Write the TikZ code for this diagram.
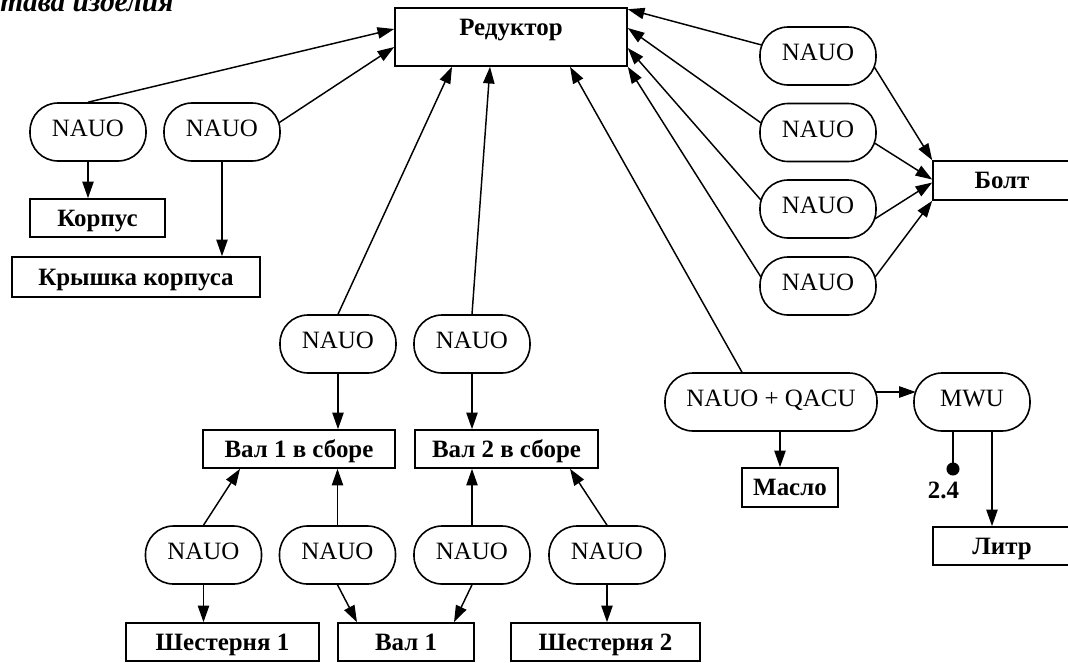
\documentclass[tikz,border=0pt]{standalone}
\usepackage{fontspec}
\setmainfont{Liberation Serif}
\usetikzlibrary{arrows.meta,calc}
\begin{document}
\begin{tikzpicture}[x=0.75pt,y=-0.75pt,
  every node/.style={inner sep=0pt},
  proc/.style={draw, line width=1.2pt, rounded corners=21pt, minimum width=87pt, minimum height=43.5pt,
    font=\fontsize{18.7}{22}\selectfont, text height=12.5pt, text depth=5.3pt},
  part/.style={draw, line width=1.2pt, minimum height=28.5pt,
    font=\bfseries\fontsize{18.7}{22}\selectfont, text height=12.5pt, text depth=0.5pt},
  arr/.style={line width=1.1pt, -{Triangle[length=12.5pt,width=8.5pt]}},
  lbl/.style={font=\bfseries\fontsize{18.7}{22}\selectfont, text height=12.5pt, text depth=0pt}
]
\useasboundingbox (0,0) rectangle (1068,662);
\clip (0,0) rectangle (1068,662);

\node[anchor=base west, font=\bfseries\itshape\fontsize{22}{26}\selectfont] (title) at (0,11.5) {тава изделия};

\node[part, minimum width=174pt, minimum height=43.5pt, text height=12.5pt, text depth=15.5pt] (red) at (511,37) {Редуктор};

\node[proc] (L1) at (88,132) {NAUO};
\node[proc] (L2) at (222,132) {NAUO};
\node[part, minimum width=101.25pt] (korpus) at (97.5,218) {Корпус};
\node[part, minimum width=186pt, minimum height=30pt] (kryshka) at (136,277) {Крышка корпуса};

\node[proc] (r1) at (818,56) {NAUO};
\node[proc] (r2) at (818,132.5) {NAUO};
\node[proc] (r3) at (818,209) {NAUO};
\node[proc] (r4) at (818,286) {NAUO};
\node[part, minimum width=103.5pt, minimum height=29.25pt] (bolt) at (1002,180.5) {Болт};

\node[proc] (v1) at (338,344) {NAUO};
\node[proc] (v2) at (472,344) {NAUO};
\node[proc, minimum width=159pt] (nq) at (771,402) {NAUO + QACU};
\node[proc] (mwu) at (972,402) {MWU};

\node[part, minimum width=144pt] (val1s) at (299,449) {Вал 1 в сборе};
\node[part, minimum width=137.25pt] (val2s) at (506.5,449) {Вал 2 в сборе};
\node[part, minimum width=72pt, minimum height=29.25pt] (maslo) at (790,487.5) {Масло};
\node[part, minimum width=103.5pt] (litr) at (1002,546) {Литр};

\node[proc] (b1) at (203.5,555) {NAUO};
\node[proc] (b2) at (337.5,555) {NAUO};
\node[proc] (b3) at (472,555) {NAUO};
\node[proc] (b4) at (607,555) {NAUO};

\node[part, minimum width=144.75pt] (sh1) at (222.5,642) {Шестерня 1};
\node[part, minimum width=102pt] (val1) at (406,642) {Вал 1};
\node[part, minimum width=141.75pt] (sh2) at (605.5,642) {Шестерня 2};

\coordinate (d24) at (953,469);
\node[lbl] (l24) at (943.5,490) {2.4};
\coordinate (lt) at ($(mwu.south)+(20,0)$);

% edges to Reduktor
\draw[arr] (L1.north) -- ($(red.west)+(0,-8)$);
\draw[arr] ($(L2.center)+(56.6,-9)$) -- ($(red.west)+(0,10)$);
\draw[arr] ($(r1.center)+(-56.3,-11)$) -- ($(red.north east)+(0,2)$);
\draw[arr] ($(r2.center)+(-56.9,-9.5)$) -- ($(red.east)+(0,-9)$);
\draw[arr] ($(r3.center)+(-57.1,-9)$) -- ($(red.east)+(0,11)$);
\draw[arr] ($(r4.center)+(-57.1,-9)$) -- (red.south east);
\draw[arr] (v1.north) -- ($(red.south)+(-59,0)$);
\draw[arr] (v2.north) -- ($(red.south)+(-21,0)$);
\draw[arr] ($(nq.north)+(-29,0)$) -- ($(red.south)+(59,0)$);

% edges to Bolt
\draw[arr] ($(r1.center)+(56.3,11)$) -- (bolt.north west);
\draw[arr] ($(r2.center)+(56.5,10.5)$) -- ($(bolt.west)+(0,-1)$);
\draw[arr] ($(r3.center)+(56.7,10)$) -- ($(bolt.west)+(0,2)$);
\draw[arr] ($(r4.center)+(57.1,-9)$) -- (bolt.south west);

% downward edges
\draw[arr] (L1.south) -- (L1.south |- korpus.north);
\draw[arr] (L2.south) -- (L2.south |- kryshka.north);
\draw[arr] (v1.south) -- (v1.south |- val1s.north);
\draw[arr] (v2.south) -- (v2.south |- val2s.north);
\draw[arr] ($(nq.south)+(9,0)$) -- ($(maslo.north)+(-10,0)$);
\draw[arr] ($(nq.center)+(104.2,-10)$) -- ($(mwu.center)+(-56.2,-10)$);
\draw[line width=1.1pt] (d24 |- mwu.south) -- (d24);
\fill (d24) circle[radius=4.9pt];
\draw[arr] (lt) -- (lt |- litr.north);

% bottom
\draw[arr] (b1.north) -- ($(val1s.south)+(-59,0)$);
\draw[arr] (b2.north) -- (b2.north |- val1s.south);
\draw[arr] (b3.north) -- (b3.north |- val2s.south);
\draw[arr] (b4.north) -- ($(val2s.south)+(63.5,0)$);
\draw[arr] (b1.south) -- (b1.south |- sh1.north);
\draw[arr] (b2.south) -- ($(val1.north)+(-49,0)$);
\draw[arr] (b3.south) -- ($(val1.north)+(48,0)$);
\draw[arr] (b4.south) -- (b4.south |- sh2.north);
\end{tikzpicture}
\end{document}
